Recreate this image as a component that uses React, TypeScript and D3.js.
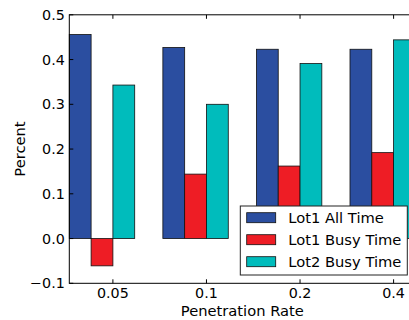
import React from "react";
import * as d3 from "d3";

const categories = ["0.05", "0.1", "0.2", "0.4"];
const seriesNames = ["Lot1 All Time", "Lot1 Busy Time", "Lot2 Busy Time"];
const lot1AllTime = [0.456, 0.427, 0.423, 0.423];
const lot1BusyTime = [-0.061, 0.144, 0.162, 0.192];
const lot2BusyTime = [0.343, 0.3, 0.391, 0.444];
const yTicks = [-0.1, 0.0, 0.1, 0.2, 0.3, 0.4, 0.5];
const colors = ["#2b4ea0", "#ee1d25", "#00bcbc"];

const W = 409;
const H = 320;
const FONT = "DejaVu Sans, sans-serif";

export default function App() {
  const series = [lot1AllTime, lot1BusyTime, lot2BusyTime];
  const barW = 0.233; // bar width in group units
  const left = 69.3,
    right = 415.4,
    top = 14.8,
    bottom = 283.3;

  const x = d3
    .scaleLinear()
    .domain([0, categories.length - 1 + 3 * barW])
    .range([left, right]);
  const y = d3.scaleLinear().domain([-0.1, 0.5]).range([bottom, top]);

  const fmt = (v: number) => {
    const s = v.toFixed(1);
    return v < 0 ? "\u2212" + s.slice(1) : s;
  };

  const tickLen = 4;
  const legend = { x: 240.3, y: 206, w: 167, h: 69 };

  return (
    <>
      <style>{`body{margin:0}`}</style>
      <svg width={W} height={H} style={{ display: "block" }} fontFamily={FONT}>
        <rect width={W} height={H} fill="#fff" />
        {/* bars */}
        {series.map((vals, s) =>
          vals.map((v, i) => {
            const x0 = x(i + s * barW);
            const x1 = x(i + (s + 1) * barW);
            const y0 = y(Math.max(0, v));
            const y1 = y(Math.min(0, v));
            return (
              <rect
                key={`${s}-${i}`}
                x={x0}
                y={y0}
                width={x1 - x0}
                height={y1 - y0}
                fill={colors[s]}
                stroke="#111"
                strokeWidth={0.8}
              />
            );
          })
        )}
        {/* frame */}
        <rect
          x={left}
          y={top}
          width={right - left}
          height={bottom - top}
          fill="none"
          stroke="#000"
          strokeWidth={1}
        />
        {/* y ticks */}
        {yTicks.map((t) => (
          <g key={t}>
            <line x1={left} x2={left + tickLen} y1={y(t)} y2={y(t)} stroke="#000" />
            <line x1={right} x2={right - tickLen} y1={y(t)} y2={y(t)} stroke="#000" />
            <text
              x={left - 4.5}
              y={y(t)}
              dy="0.36em"
              textAnchor="end"
              fontSize={14.3}
              fill="#000"
            >
              {fmt(t)}
            </text>
          </g>
        ))}
        {/* x ticks */}
        {categories.map((c, i) => {
          const tx = x(i + 2 * barW);
          return (
            <g key={c}>
              <line x1={tx} x2={tx} y1={bottom} y2={bottom - tickLen} stroke="#000" />
              <line x1={tx} x2={tx} y1={top} y2={top + tickLen} stroke="#000" />
              <text x={tx} y={bottom + 14.5} textAnchor="middle" fontSize={14.3} fill="#000">
                {c}
              </text>
            </g>
          );
        })}
        {/* axis labels */}
        <text
          x={(left + right) / 2}
          y={315.5}
          textAnchor="middle"
          fontSize={14.7}
          fill="#000"
        >
          Penetration Rate
        </text>
        <text
          transform={`translate(25,${(top + bottom) / 2}) rotate(-90)`}
          textAnchor="middle"
          fontSize={14.7}
          fill="#000"
        >
          Percent
        </text>
        {/* legend */}
        <rect
          x={legend.x}
          y={legend.y}
          width={legend.w}
          height={legend.h}
          fill="#fff"
          stroke="#222"
          strokeWidth={1}
        />
        {seriesNames.map((name, s) => {
          const cy = 217.7 + s * 22;
          return (
            <g key={name}>
              <rect
                x={246.7}
                y={cy - 5}
                width={29}
                height={10}
                fill={colors[s]}
                stroke="#111"
                strokeWidth={0.8}
              />
              <text x={288.3} y={cy} dy="0.36em" fontSize={14.7} fill="#000">
                {name}
              </text>
            </g>
          );
        })}
      </svg>
    </>
  );
}
